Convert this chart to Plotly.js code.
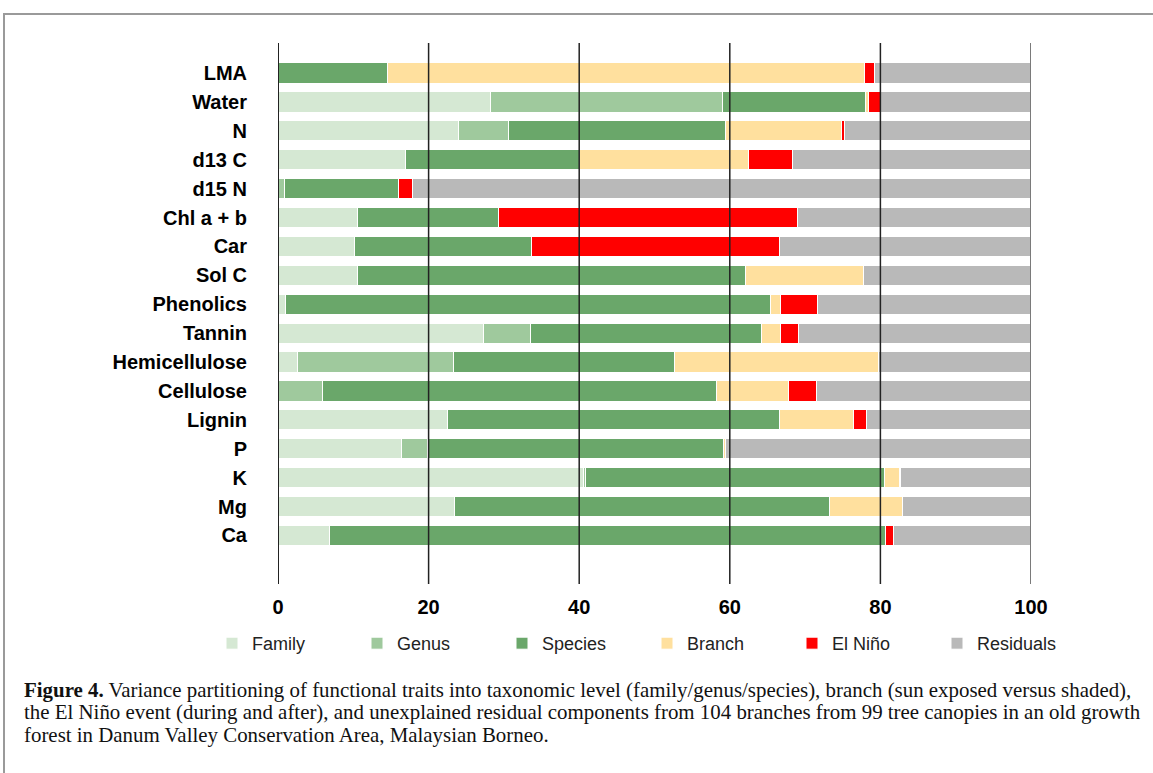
<!DOCTYPE html>
<html>
<head>
<meta charset="utf-8">
<script src="https://cdn.plot.ly/plotly-3.0.1.min.js"></script>
<style>html,body{margin:0;padding:0;background:#fff;}</style>
</head>
<body>
<div id="chart" style="width:1153px;height:773px;"></div>
<script>
// Categories, top to bottom
var traits = ["LMA","Water","N","d13 C","d15 N","Chl a + b","Car","Sol C","Phenolics","Tannin","Hemicellulose","Cellulose","Lignin","P","K","Mg","Ca"];

// Variance components (%)
var family    = [0,   28.2, 24.0, 16.9, 0,    10.6, 10.1, 10.5, 1.0,  27.3, 2.6,  0,    22.5, 16.4, 40.6, 23.4, 6.8];
var genus     = [0,   30.8, 6.6,  0,    0.9,  0,    0,    0,    0,    6.2,  20.7, 5.9,  0,    3.5,  0.3,  0,    0];
var species   = [14.5,19.0, 28.8, 23.2, 15.1, 18.7, 23.5, 51.6, 64.4, 30.7, 29.4, 52.3, 44.1, 39.2, 39.6, 49.8, 73.9];
var branch    = [63.4,0.4,  15.4, 22.4, 0,    0,    0,    15.6, 1.3,  2.5,  27.0, 9.6,  9.8,  0.3,  2.0,  9.8,  0];
var elnino    = [1.3, 1.6,  0.4,  5.8,  1.9,  39.7, 33.0, 0,    5.0,  2.4,  0,    3.7,  1.7,  0,    0.2,  0,    1.1];
var residuals = [20.8,20.0, 24.8, 31.7, 82.1, 31.0, 33.3, 22.3, 28.3, 30.9, 20.3, 28.5, 21.8, 40.6, 17.3, 17.0, 18.2];

var seriesNames = ["Family","Genus","Species","Branch","El Niño","Residuals"];
var seriesValues = [family, genus, species, branch, elnino, residuals];
var seriesColors = ["#d5e8d3","#9fc99d","#6aa76a","#ffe09e","#ff0000","#b9b9b9"];

var xTicks = [0,20,40,60,80,100];

var captionLines = [
  "<b>Figure 4.</b> Variance partitioning of functional traits into taxonomic level (family/genus/species), branch (sun exposed versus shaded),",
  "the El Niño event (during and after), and unexplained residual components from 104 branches from 99 tree canopies in an old growth",
  "forest in Danum Valley Conservation Area, Malaysian Borneo."
];

var traces = seriesNames.map(function(name, i){
  return {
    type: "bar",
    orientation: "h",
    name: name,
    y: traits,
    x: seriesValues[i],
    marker: {color: seriesColors[i], line: {color: "#ffffff", width: 1}},
    hoverinfo: "skip"
  };
});

var W = 1153, H = 773;
var mL = 278, mR = 122, mT = 43, mB = 189;
var pw = W - mL - mR, ph = H - mT - mB;
function px2x(p){ return (p - mL) / pw; }
function py2y(p){ return (H - mB - p) / ph; }

var shapes = xTicks.map(function(v){
  var col = v === 100 ? "#7a7a7a" : "#222222";
  var w = (v === 0 || v === 100) ? 2 : 1.5;
  return {type: "line", xref: "x", yref: "paper", x0: v, x1: v, y0: 0, y1: 1,
          line: {color: col, width: w}, layer: "above"};
});
// figure frame
shapes.push({type: "rect", xref: "paper", yref: "paper",
  x0: px2x(4), x1: px2x(1175), y0: py2y(14), y1: py2y(800),
  line: {color: "#9a9a9a", width: 2}, fillcolor: "rgba(0,0,0,0)", layer: "below"});

var captionY = [690, 712, 735];
var annotations = captionLines.map(function(t, i){
  return {text: t, xref: "paper", yref: "paper", x: px2x(22), y: py2y(captionY[i]),
          xanchor: "left", yanchor: "middle", showarrow: false,
          font: {family: "Liberation Serif, Times New Roman, serif", size: 20.9, color: "#111"}};
});

var layout = {
  width: W, height: H,
  margin: {l: mL, r: mR, t: mT, b: mB, pad: 0},
  paper_bgcolor: "#ffffff", plot_bgcolor: "#ffffff",
  barmode: "stack",
  bargap: 0.3,
  showlegend: true,
  legend: {orientation: "h", x: px2x(212), xanchor: "left", y: py2y(625), yanchor: "top",
           traceorder: "normal", entrywidth: 100, entrywidthmode: "pixels",
           font: {family: "Liberation Sans, Arial, sans-serif", size: 18, color: "#222"}},
  xaxis: {range: [0, 100], tickvals: xTicks, ticktext: xTicks.map(String),
          showgrid: false, zeroline: false, showline: false, ticks: "",
          ticklabelstandoff: 9, fixedrange: true,
          tickfont: {family: "Liberation Sans, Arial, sans-serif", size: 20, weight: 700, color: "#000"}},
  yaxis: {type: "category", categoryorder: "array", categoryarray: traits,
          range: [17.68, -1.04], showgrid: false, zeroline: false, showline: false, ticks: "",
          ticklabelstandoff: 30, fixedrange: true,
          tickfont: {family: "Liberation Sans, Arial, sans-serif", size: 20, weight: 700, color: "#000"}},
  shapes: shapes,
  annotations: annotations
};

Plotly.newPlot("chart", traces, layout, {displayModeBar: false, staticPlot: true});
</script>
</body>
</html>
